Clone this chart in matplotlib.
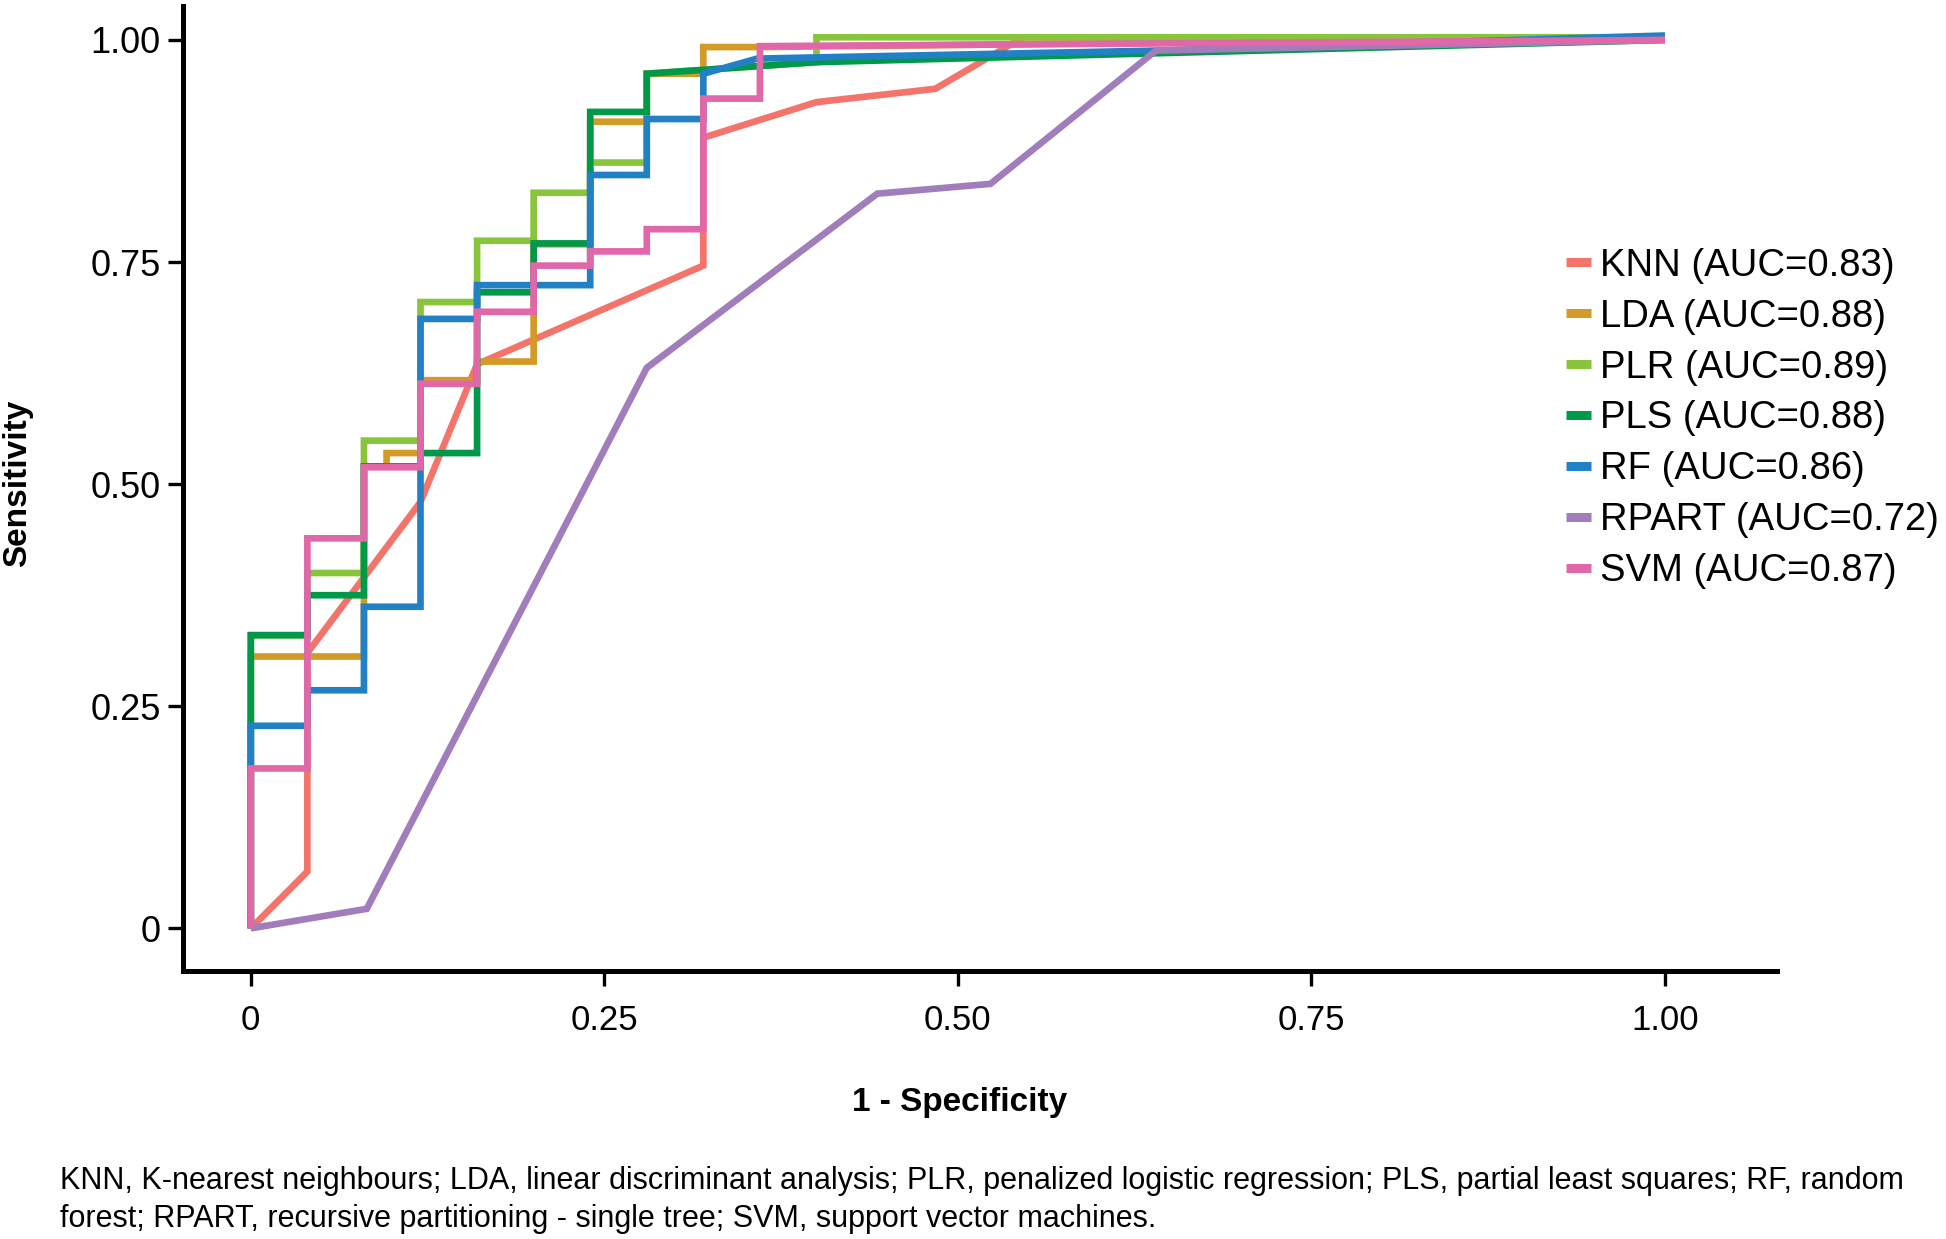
import matplotlib
matplotlib.use("Agg")
import matplotlib.pyplot as plt
from matplotlib.lines import Line2D

plt.rcParams['font.family'] = ['Liberation Sans', 'DejaVu Sans']

# ROC curve vertices (1 - specificity, sensitivity)
knn_x = [0, 0.04, 0.04, 0.12, 0.16, 0.32, 0.32, 0.40, 0.484, 0.546, 1.0]
knn_y = [0, 0.064, 0.31, 0.48, 0.635, 0.746, 0.89, 0.93, 0.945, 1.003, 1.003]

lda_x = [0, 0, 0.08, 0.08, 0.096, 0.096, 0.12, 0.12, 0.16, 0.16, 0.20, 0.20,
         0.24, 0.24, 0.28, 0.28, 0.32, 0.32, 0.36, 1.0]
lda_y = [0, 0.306, 0.306, 0.52, 0.52, 0.535, 0.535, 0.617, 0.617, 0.638, 0.638, 0.77,
         0.77, 0.908, 0.908, 0.962, 0.962, 0.992, 0.992, 1.003]

plr_x = [0, 0, 0.04, 0.04, 0.08, 0.08, 0.12, 0.12, 0.16, 0.16, 0.20, 0.20,
         0.24, 0.24, 0.28, 0.28, 0.40, 0.40, 1.0]
plr_y = [0, 0.33, 0.33, 0.40, 0.40, 0.549, 0.549, 0.705, 0.705, 0.774, 0.774, 0.828,
         0.828, 0.862, 0.862, 0.962, 0.975, 1.003, 1.003]

pls_x = [0, 0, 0.04, 0.04, 0.08, 0.08, 0.12, 0.12, 0.16, 0.16, 0.20, 0.20,
         0.24, 0.24, 0.28, 0.28, 0.40, 1.0]
pls_y = [0, 0.33, 0.33, 0.375, 0.375, 0.52, 0.52, 0.535, 0.535, 0.716, 0.716, 0.771,
         0.771, 0.919, 0.919, 0.962, 0.975, 1.0]

rf_x = [0, 0, 0.04, 0.04, 0.08, 0.08, 0.12, 0.12, 0.16, 0.16, 0.24, 0.24,
        0.28, 0.28, 0.32, 0.32, 0.358, 0.64, 1.0]
rf_y = [0, 0.228, 0.228, 0.268, 0.268, 0.362, 0.362, 0.686, 0.686, 0.724, 0.724, 0.848,
        0.848, 0.911, 0.911, 0.962, 0.979, 0.988, 1.005]

rpart_x = [0, 0.082, 0.28, 0.443, 0.523, 0.64, 1.0]
rpart_y = [0, 0.022, 0.631, 0.827, 0.838, 0.988, 1.0]

svm_x = [0, 0, 0.04, 0.04, 0.08, 0.08, 0.12, 0.12, 0.16, 0.16, 0.20, 0.20,
         0.24, 0.24, 0.28, 0.28, 0.32, 0.32, 0.36, 0.36, 1.0]
svm_y = [0, 0.18, 0.18, 0.439, 0.439, 0.519, 0.519, 0.613, 0.613, 0.694, 0.694, 0.746,
         0.746, 0.762, 0.762, 0.787, 0.787, 0.934, 0.934, 0.993, 1.0]

models = ["KNN", "LDA", "PLR", "PLS", "RF", "RPART", "SVM"]
aucs = ["0.83", "0.88", "0.89", "0.88", "0.86", "0.72", "0.87"]
colors = ["#F4736B", "#D49A27", "#88C53A", "#00994A", "#2281C5", "#A27DBC", "#E067A8"]
curves = [(knn_x, knn_y), (lda_x, lda_y), (plr_x, plr_y), (pls_x, pls_y),
          (rf_x, rf_y), (rpart_x, rpart_y), (svm_x, svm_y)]

tick_vals = [0, 0.25, 0.5, 0.75, 1.0]
tick_labels = ["0", "0.25", "0.50", "0.75", "1.00"]

footnote = ["KNN, K-nearest neighbours; LDA, linear discriminant analysis; PLR, penalized logistic "
            "regression; PLS, partial least squares; RF, random",
            "forest; RPART, recursive partitioning - single tree; SVM, support vector machines."]

fig = plt.figure(figsize=(19.46, 12.39), dpi=100)
ax = fig.add_axes([0.094, 0.2163, 0.819, 0.7787])

for (xs, ys), c in zip(curves, colors):
    ax.plot(xs, ys, color=c, lw=4.8, solid_joinstyle='miter', solid_capstyle='butt')

ax.set_xlim(-0.048, 1.079)
ax.set_ylim(-0.048, 1.038)
ax.set_xticks(tick_vals)
ax.set_xticklabels(tick_labels)
ax.set_yticks(tick_vals)
ax.set_yticklabels(tick_labels)

for s in ["top", "right"]:
    ax.spines[s].set_visible(False)
for s in ["left", "bottom"]:
    ax.spines[s].set_linewidth(3.6)

ax.tick_params(axis='both', length=11, width=2.4, direction='out')
ax.tick_params(axis='y', pad=5, labelsize=26)
ax.tick_params(axis='x', pad=13, labelsize=25)

ax.set_xlabel("1 - Specificity", fontsize=24, fontweight='bold')
ax.set_ylabel("Sensitivity", fontsize=24, fontweight='bold')
ax.xaxis.set_label_coords(0.4875, -0.1358)
ax.yaxis.set_label_coords(-0.1035, 0.505)
ax.xaxis.label.set_va('center')
ax.yaxis.label.set_va('center')

handles = [Line2D([], [], color=c, lw=6.5, solid_capstyle='butt') for c in colors]
labels = [f"{m} (AUC={a})" for m, a in zip(models, aucs)]
fig.legend(handles, labels, loc='upper left', bbox_to_anchor=(0.8047, 0.800),
           frameon=False, fontsize=27.5, handlelength=0.65, handletextpad=0.25,
           labelspacing=0.39, borderpad=0, borderaxespad=0)

fig.text(0.031, 1 - 1181 / 1239, footnote[0], fontsize=22, va='center')
fig.text(0.031, 1 - 1219 / 1239, footnote[1], fontsize=22, va='center')

fig.savefig("out.png", dpi=100, facecolor='white')
